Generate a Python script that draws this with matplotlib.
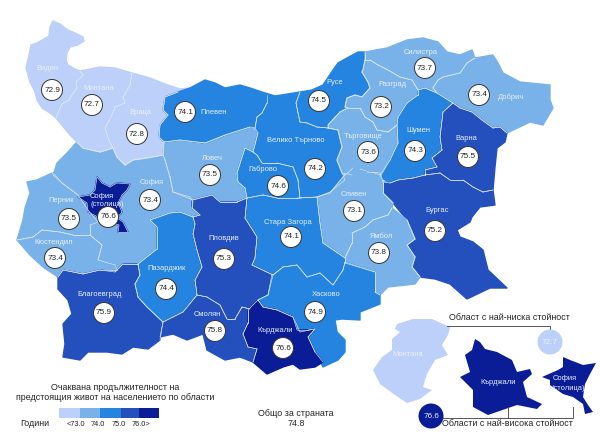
import matplotlib
matplotlib.use("Agg")
import matplotlib.pyplot as plt
from matplotlib.collections import LineCollection
from matplotlib.colors import BoundaryNorm, ListedColormap
from matplotlib.patches import Circle, Polygon
from matplotlib.path import Path

plt.rcParams['font.family'] = ['Liberation Sans', 'DejaVu Sans']

# region values, years
names = ["София", "Видин", "Монтана", "Враца", "Ловеч", "Плевен", "Велико Търново", "Русе", "Силистра",
         "Разград", "Търговище", "Добрич", "Шумен", "Варна", "Бургас", "Сливен", "Ямбол", "Стара Загора",
         "Габрово", "Перник", "Кюстендил", "Благоевград", "Пазарджик", "Пловдив", "Смолян", "Хасково",
         "Кърджали", "София (столица)"]
values = [73.4, 72.9, 72.7, 72.8, 73.5, 74.1, 74.2, 74.5, 73.7,
          73.2, 73.6, 73.4, 74.3, 75.5, 75.2, 73.1, 73.8, 74.1,
          74.6, 73.5, 73.4, 75.9, 74.4, 75.3, 75.8, 74.9,
          76.6, 76.6]

outlines = {
    "София": [(53,175),(57,163),(67,153),(77,142),(83,148),(100,152),(113,148),(117,157),(125,165),(133,160),(163,155),(165,160),(170,177),(173,192),(190,197),(193,202),(192,208),(200,215),(193,217),(180,212),(170,213),(150,220),(157,227),(157,249),(138,264),(123,264),(115,272),(100,270),(98,260),(102,245),(90,235),(90,225),(78,195),(62,183)],
    "Видин": [(53,21),(60,24),(68,30),(75,33),(83,37),(84,41),(78,45),(70,47),(67,53),(66,60),(68,65),(75,69),(80,71),(83,75),(76,82),(77,88),(72,95),(69,100),(62,104),(58,113),(56,118),(50,113),(42,108),(37,100),(35,92),(30,82),(26,68),(29,55),(31,45),(37,43),(49,36),(50,27)],
    "Монтана": [(80,71),(100,67),(115,68),(132,73),(130,85),(123,97),(125,103),(115,107),(112,115),(105,128),(108,138),(113,148),(100,152),(83,148),(77,142),(70,135),(56,118),(58,113),(62,104),(69,100),(72,95),(77,88),(76,82),(83,75)],
    "Враца": [(132,73),(150,78),(165,84),(180,89),(190,88),(178,92),(165,97),(163,110),(168,115),(160,125),(159,137),(164,142),(163,155),(147,158),(133,160),(125,165),(117,157),(113,148),(108,138),(105,128),(112,115),(115,107),(125,103),(123,97),(130,85)],
    "Ловеч": [(164,142),(180,140),(205,143),(225,135),(250,127),(258,133),(253,152),(245,148),(237,173),(238,182),(245,188),(247,198),(237,202),(220,202),(212,195),(193,200),(173,192),(170,177),(165,160),(163,155)],
    "Плевен": [(165,97),(178,92),(190,88),(205,80),(215,83),(225,88),(240,85),(250,88),(262,92),(275,96),(267,103),(262,113),(257,117),(255,128),(250,127),(225,135),(205,143),(180,140),(164,142),(159,137),(160,125),(168,115),(163,110)],
    "Велико Търново": [(267,95),(275,96),(300,92),(296,103),(298,113),(300,122),(307,123),(317,127),(328,128),(338,130),(342,147),(337,160),(342,173),(345,180),(330,192),(317,197),(300,198),(298,180),(293,167),(277,163),(262,163),(257,155),(253,152),(258,133),(255,128),(257,117),(262,113),(267,103)],
    "Русе": [(300,92),(312,90),(323,85),(333,70),(338,63),(347,58),(358,52),(365,52),(365,60),(363,70),(362,72),(368,82),(370,88),(362,97),(355,95),(347,98),(345,107),(348,108),(340,112),(328,125),(328,128),(317,127),(307,123),(300,122),(298,113),(296,103)],
    "Силистра": [(365,52),(387,48),(407,40),(423,38),(438,42),(447,52),(460,55),(472,50),(475,58),(467,63),(460,73),(443,77),(438,80),(433,88),(437,93),(425,88),(418,90),(412,80),(400,77),(388,70),(378,65),(370,60),(365,60)],
    "Разград": [(365,60),(370,60),(378,65),(388,70),(400,77),(412,80),(418,90),(418,95),(407,103),(398,117),(397,125),(388,132),(377,130),(373,122),(365,117),(360,108),(348,108),(345,107),(347,98),(355,95),(362,97),(370,88),(368,82),(362,72),(363,70)],
    "Търговище": [(348,108),(360,108),(365,117),(373,122),(377,130),(388,132),(397,125),(398,143),(390,160),(380,175),(372,172),(360,168),(352,175),(342,173),(337,160),(342,147),(338,130),(328,128),(328,125),(340,112)],
    "Добрич": [(475,58),(493,55),(498,63),(503,73),(520,82),(550,85),(550,100),(553,108),(543,125),(530,122),(507,133),(500,127),(493,128),(482,120),(472,112),(460,108),(453,103),(437,93),(433,88),(438,80),(443,77),(460,73),(467,63)],
    "Шумен": [(418,90),(425,88),(437,93),(453,103),(443,112),(440,137),(442,150),(432,158),(437,167),(425,170),(425,175),(413,178),(398,180),(390,183),(380,177),(390,160),(398,143),(397,125),(398,117),(407,103),(418,95)],
    "Варна": [(453,103),(460,108),(472,112),(482,120),(493,128),(500,127),(507,133),(505,142),(497,148),(495,167),(493,190),(483,192),(473,187),(463,180),(450,180),(440,173),(425,175),(425,170),(437,167),(432,158),(442,150),(440,137),(443,112)],
    "Бургас": [(383,182),(390,183),(398,180),(413,178),(425,175),(440,173),(450,180),(463,180),(473,187),(483,192),(493,190),(495,205),(480,207),(472,217),(470,222),(457,230),(460,237),(473,242),(483,250),(488,270),(507,288),(490,288),(467,299),(450,284),(435,279),(420,277),(412,267),(415,257),(407,245),(415,239),(407,220),(393,203),(383,193)],
    "Сливен": [(317,197),(330,193),(343,177),(353,168),(367,172),(380,173),(383,182),(383,193),(393,203),(392,208),(388,215),(373,220),(365,227),(352,233),(352,243),(345,258),(323,243),(320,223)],
    "Ямбол": [(392,208),(407,220),(415,239),(407,245),(415,257),(412,267),(420,277),(415,284),(388,287),(380,295),(375,292),(375,272),(345,263),(345,258),(352,243),(352,233),(365,227),(373,220),(388,215)],
    "Стара Загора": [(247,198),(263,195),(277,198),(297,198),(317,197),(320,223),(323,243),(345,258),(345,262),(343,270),(333,285),(320,273),(307,277),(297,265),(283,267),(273,275),(252,265),(255,258),(257,237),(245,218)],
    "Габрово": [(237,173),(245,148),(253,152),(257,155),(262,163),(277,163),(293,167),(298,180),(300,198),(277,198),(263,195),(247,198),(245,188),(238,182)],
    "Перник": [(27,182),(37,180),(52,173),(55,175),(62,183),(78,195),(88,210),(98,222),(90,225),(90,235),(73,235),(60,232),(42,230),(33,237),(17,240),(23,220),(25,208),(30,193)],
    "Кюстендил": [(17,240),(33,237),(42,230),(60,232),(73,235),(90,235),(102,245),(98,260),(115,265),(117,270),(100,270),(83,274),(63,270),(58,277),(43,267),(30,255)],
    "Благоевград": [(58,277),(63,270),(83,274),(100,270),(115,272),(123,264),(138,264),(140,275),(135,284),(138,297),(147,307),(163,322),(160,340),(148,349),(133,347),(122,354),(107,352),(88,352),(80,360),(63,357),(65,344),(63,324),(72,314),(68,300),(58,289)],
    "Пазарджик": [(150,220),(170,213),(180,212),(193,217),(195,224),(193,234),(197,250),(202,267),(195,280),(197,295),(183,312),(173,317),(163,322),(147,307),(138,297),(135,284),(140,275),(138,264),(157,249),(157,227)],
    "Пловдив": [(192,200),(212,195),(220,202),(237,202),(247,198),(245,218),(257,237),(255,258),(252,265),(273,275),(272,274),(268,295),(258,300),(250,309),(242,307),(235,319),(227,319),(220,305),(207,297),(197,295),(195,280),(202,267),(197,250),(193,234),(195,224),(193,217),(200,215),(192,208)],
    "Смолян": [(163,322),(173,317),(183,312),(197,295),(207,297),(220,305),(227,319),(235,319),(242,307),(250,309),(255,300),(248,310),(248,323),(243,334),(248,347),(257,349),(253,362),(240,357),(225,360),(207,350),(203,334),(187,340),(173,334),(160,337)],
    "Хасково": [(273,275),(283,267),(297,265),(307,277),(320,273),(333,285),(343,270),(345,262),(375,272),(375,292),(380,295),(380,304),(360,312),(360,320),(342,319),(335,320),(337,332),(345,340),(345,352),(338,360),(323,367),(315,352),(308,337),(315,329),(300,332),(293,317),(277,310),(263,307),(258,300),(268,295)],
    "Кърджали": [(258,300),(263,307),(277,310),(293,317),(297,330),(308,330),(315,329),(308,337),(315,352),(323,362),(315,367),(300,369),(293,364),(283,367),(267,374),(253,362),(257,349),(248,347),(243,334),(248,323),(248,310)],
    "София (столица)": [(97,177),(102,183),(110,187),(117,183),(130,184),(127,190),(122,195),(118,203),(122,212),(117,218),(123,222),(128,232),(118,232),(119,225),(108,222),(88,212),(87,203),(78,197),(90,195),(95,190)],
}

# inset shapes
inset_outlines = {
    "Монтана": [(397,324),(413,319),(432,319),(450,327),(448,335),(442,345),(448,355),(435,360),(427,374),(423,387),(432,390),(420,399),(407,403),(395,395),(380,384),(373,370),(382,357),(392,350),(392,339),(400,332),(395,329)],
    "Кърджали": [(475,339),(480,342),(485,349),(497,352),(512,360),(517,372),(530,369),(532,374),(523,382),(527,397),(542,404),(537,409),(517,405),(488,415),(473,407),(473,390),(460,377),(470,372),(465,355),(472,350)],
    "София (столица)": [(563,357),(570,360),(583,365),(596,363),(590,374),(585,384),(583,397),(588,405),(593,412),(585,414),(583,404),(573,397),(563,394),(550,385),(550,380),(542,377),(558,370),(563,367)],
}

# value bubbles
bubble_names = ["Видин", "Монтана", "Враца", "Плевен", "Русе", "Разград", "Силистра", "Добрич", "Търговище",
                "Шумен", "Варна", "Велико Търново", "Ловеч", "Габрово", "Сливен", "София", "София (столица)",
                "Перник", "Кюстендил", "Стара Загора", "Ямбол", "Бургас", "Пловдив", "Пазарджик",
                "Благоевград", "Смолян", "Кърджали", "Хасково"]
bubble_xy = [(52,90),(92,105),(137,134),(185,112),(319,101),(381,107),(425,68),(479,95),(368,152),
             (415,151),(468,157),(315,169),(210,175),(278,186),(354,211),(150,200),(108,217),
             (69,219),(55,258),(291,237),(379,253),(435,231),(224,259),(166,289),
             (104,313),(215,331),(283,348),(315,312)]

label_xy = {"Видин":(47,68),"Монтана":(99,89),"Враца":(140,112),"Плевен":(214,112),"Русе":(335,82),"Разград":(392,85),
            "Силистра":(421,52),"Добрич":(511,97),"Търговище":(363,137),"Шумен":(418,130),"Варна":(466,138),
            "Велико Търново":(296,141),"Ловеч":(212,158),"Габрово":(263,169),"Сливен":(354,194),"София":(152,182),
            "Перник":(61,201),"Кюстендил":(54,243),"Стара Загора":(288,222),"Ямбол":(381,236),"Бургас":(437,210),
            "Пловдив":(224,238),"Пазарджик":(167,268),"Благоевград":(100,295),"Смолян":(207,315),"Кърджали":(275,331),
            "Хасково":(326,295)}

legend_edges = [59, 80, 100, 121, 139, 159]
legend_labels = ["<73.0", "74.0", "75.0", "76.0>"]
legend_label_x = [76, 98, 119, 141]

colors = ["#BDD0FA", "#79B2E8", "#2484E0", "#2450BE", "#0A1C96"]
cmap = ListedColormap(colors)
norm = BoundaryNorm([0, 73, 74, 75, 76, 100], 5)
value_of = dict(zip(names, values))


def top_region(x, y, paths):
    # last drawn shape at this point, None when outside the country
    found = None
    for name in names:
        if paths[name].contains_point((x, y)):
            found = name
    return found


def inner_borders():
    # keep only the outline pieces that separate two different regions
    paths = {name: Path(outlines[name]) for name in names}
    segs = []
    for name in names:
        pts = outlines[name]
        for a, b in zip(pts, pts[1:] + pts[:1]):
            mx, my = (a[0] + b[0]) / 2, (a[1] + b[1]) / 2
            dx, dy = b[0] - a[0], b[1] - a[1]
            size = (dx * dx + dy * dy) ** 0.5 or 1
            nx, ny = -dy / size * 1.5, dx / size * 1.5
            left = top_region(mx + nx, my + ny, paths)
            right = top_region(mx - nx, my - ny, paths)
            if left and right and left != right and name in (left, right):
                segs.append([a, b])
    return segs


fig = plt.figure(figsize=(6, 4.37), dpi=100)
ax = fig.add_axes([0, 0, 1, 1])
ax.set_xlim(0, 600)
ax.set_ylim(437, 0)
ax.axis("off")

# edge in the fill colour closes the small gaps left between traced shapes
for name in names:
    c = cmap(norm(value_of[name]))
    ax.add_patch(Polygon(outlines[name], closed=True, facecolor=c, edgecolor=c, linewidth=1.0, joinstyle="round"))
ax.add_collection(LineCollection(inner_borders(), colors="#DDE8FA", linewidths=0.45, capstyle="round", zorder=2))

label_size = 5.4
num_size = 5.9
text_size = 6.4
label_color = "#E8F0FC"
text_color = "#222222"

for name, (x, y) in label_xy.items():
    ax.text(x, y, name, color=label_color, fontsize=label_size, ha="center", va="center", zorder=3)
ax.text(102, 196, "София", color=label_color, fontsize=label_size, ha="center", va="center", zorder=6)
ax.text(107, 204, "(столица)", color=label_color, fontsize=label_size, ha="center", va="center", zorder=6)

for name, (x, y) in zip(bubble_names, bubble_xy):
    ax.add_patch(Circle((x, y), 10.5, facecolor="white", edgecolor="#333333", linewidth=0.7, zorder=5))
    ax.text(x, y, "%.1f" % value_of[name], color=text_color, fontsize=num_size, ha="center", va="center", zorder=7)

# inset
for name, pts in inset_outlines.items():
    ax.add_patch(Polygon(pts, closed=True, facecolor=cmap(norm(value_of[name])), edgecolor="none"))
ax.text(408, 355, "Монтана", color=label_color, fontsize=label_size, ha="center", va="center")
ax.text(498, 383, "Кърджали", color=label_color, fontsize=label_size, ha="center", va="center")
ax.text(565, 379, "София", color=label_color, fontsize=label_size, ha="center", va="center")
ax.text(568, 388, "(столица)", color=label_color, fontsize=label_size, ha="center", va="center")

line = "#555555"
ax.plot([447, 550, 550], [326, 326, 331], color=line, lw=0.7)
ax.plot([443, 573, 573], [418, 418, 407], color=line, lw=0.7)
ax.plot([508, 508], [407, 418], color=line, lw=0.7)
ax.add_patch(Circle((550, 342), 12.5, facecolor=colors[0], edgecolor="none", zorder=3))
ax.text(550, 342, "72.7", color=label_color, fontsize=num_size, ha="center", va="center", zorder=4)
ax.add_patch(Circle((431, 416), 12.5, facecolor=colors[4], edgecolor="none", zorder=3))
ax.text(431, 416, "76.6", color=label_color, fontsize=num_size, ha="center", va="center", zorder=4)
ax.text(509, 318, "Област с най-ниска стойност", color=text_color, fontsize=text_size, ha="center", va="center")
ax.text(507, 424, "Области с най-висока стойност", color=text_color, fontsize=text_size, ha="center", va="center")

# legend
for i in range(5):
    ax.fill_between(legend_edges[i:i + 2], 408, 418, color=colors[i], linewidth=0)
for txt, x in zip(legend_labels, legend_label_x):
    ax.text(x, 424, txt, color=text_color, fontsize=5.3, ha="center", va="center")
ax.text(35, 424, "Години", color=text_color, fontsize=text_size, ha="center", va="center")
ax.text(115, 387, "Очаквана продължителност на", color=text_color, fontsize=text_size, ha="center", va="center")
ax.text(115, 397, "предстоящия живот на населението по области", color=text_color, fontsize=text_size, ha="center", va="center")
ax.text(296, 413, "Общо за страната", color=text_color, fontsize=text_size, ha="center", va="center")
ax.text(296, 424, "74.8", color=text_color, fontsize=text_size, ha="center", va="center")

fig.savefig("out.png", dpi=100)
